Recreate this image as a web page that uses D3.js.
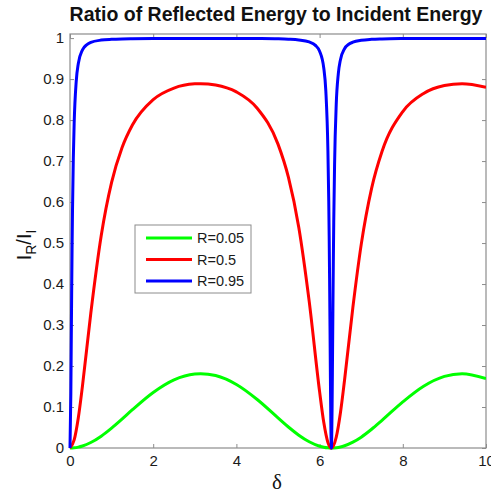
<!DOCTYPE html>
<html>
<head>
<meta charset="utf-8">
<script src="https://cdn.jsdelivr.net/npm/d3@7"></script>
<style>
  html, body { margin: 0; padding: 0; background: #fff; }
  svg { display: block; }
  text { font-family: "Liberation Sans", Arial, Helvetica, sans-serif; }
</style>
</head>
<body>
<svg id="chart" width="491" height="495"></svg>
<script>
// Phase difference samples (radians) and reflected fraction for each mirror reflectance.
// The high-finesse curve uses a denser grid around the sharp dips at 0 and 2π.
const deltaSmooth = [0, 0.1, 0.2, 0.3, 0.5, 0.75, 1.0, 1.25, 1.5, 2.0, 2.5, 3.0, 3.1416, 3.5, 4.0, 4.5, 5.0, 5.25, 5.5, 5.75, 6.0, 6.1, 6.2, 6.2832, 6.4, 6.5, 6.6, 6.8, 7.0, 7.25, 7.5, 8.0, 8.5, 9.0, 9.4248, 10];
const ratioR005 = [0, 0.00055, 0.0022, 0.0049, 0.0134, 0.0289, 0.0485, 0.0705, 0.0934, 0.1356, 0.1664, 0.1807, 0.1814, 0.1767, 0.1549, 0.1183, 0.0735, 0.0512, 0.0313, 0.0152, 0.0044, 0.0019, 0.0004, 0, 0.0008, 0.0026, 0.0055, 0.0143, 0.0265, 0.0457, 0.0675, 0.1126, 0.1508, 0.1748, 0.1814, 0.1693];
const ratioR05 = [0, 0.0196, 0.0739, 0.1516, 0.3287, 0.5177, 0.6478, 0.7325, 0.7880, 0.8500, 0.8781, 0.8884, 0.8889, 0.8857, 0.8687, 0.8289, 0.7413, 0.6606, 0.5382, 0.3576, 0.1374, 0.0627, 0.0136, 0, 0.0266, 0.0856, 0.1660, 0.3431, 0.4961, 0.6334, 0.7232, 0.8209, 0.8650, 0.8843, 0.8889, 0.8803];

const deltaSharp = [0, 0.02, 0.03, 0.04, 0.05, 0.06, 0.08, 0.1, 0.15, 0.2, 0.3, 0.4, 0.5, 0.75, 1.0, 1.25, 1.5, 2.0, 2.5, 3.0, 3.1416, 3.5, 4.0, 4.5, 5.0, 5.25, 5.5, 5.75, 5.9, 6.0, 6.1, 6.15, 6.2, 6.22, 6.23, 6.24, 6.25, 6.26, 6.27, 6.2832, 6.29, 6.30, 6.31, 6.32, 6.33, 6.34, 6.36, 6.4, 6.45, 6.5, 6.6, 6.7, 6.8, 7.0, 7.25, 7.5, 8.0, 8.5, 9.0, 9.4248, 10];
const ratioR095 = [0, 0.1319, 0.2549, 0.3781, 0.4872, 0.5777, 0.7086, 0.7915, 0.8951, 0.9381, 0.9714, 0.9836, 0.9894, 0.9951, 0.9971, 0.9981, 0.9986, 0.9991, 0.9993, 0.9993, 0.9993, 0.9993, 0.9992, 0.9989, 0.9982, 0.9973, 0.9955, 0.9906, 0.9822, 0.9680, 0.9271, 0.8707, 0.7244, 0.6027, 0.5180, 0.4147, 0.2950, 0.1696, 0.0620, 0, 0.0173, 0.0970, 0.2146, 0.3399, 0.4544, 0.5509, 0.6916, 0.8383, 0.9134, 0.9468, 0.9742, 0.9849, 0.9900, 0.9947, 0.9970, 0.9980, 0.9989, 0.9992, 0.9993, 0.9993, 0.9993];

const seriesNames = ["R=0.05", "R=0.5", "R=0.95"];
const seriesColors = ["#00ff00", "#ff0000", "#0000ff"];
const xTicks = [0, 2, 4, 6, 8, 10];
const yTicks = [0, 0.1, 0.2, 0.3, 0.4, 0.5, 0.6, 0.7, 0.8, 0.9, 1];

const series = [
  { name: seriesNames[0], color: seriesColors[0], x: deltaSmooth, y: ratioR005 },
  { name: seriesNames[1], color: seriesColors[1], x: deltaSmooth, y: ratioR05 },
  { name: seriesNames[2], color: seriesColors[2], x: deltaSharp, y: ratioR095 }
];

const svg = d3.select("#chart");
const plot = { left: 70, right: 486, top: 34, bottom: 448 };

const x = d3.scaleLinear().domain([0, 10]).range([plot.left, plot.right]);
const y = d3.scaleLinear().domain([0, 1.01]).range([plot.bottom, plot.top]);

const axisGrey = "#8c8c8c";
const tickLen = 4;

// Axes with inward ticks on all four sides (box style)
function styleAxis(g) {
  g.select(".domain").remove();
  g.selectAll(".tick line").attr("stroke", axisGrey).attr("stroke-width", 1);
  g.selectAll(".tick text").attr("fill", "#1a1a1a").style("font-size", "15px");
}

svg.append("g")
  .attr("transform", `translate(0,${plot.bottom})`)
  .call(d3.axisBottom(x).tickValues(xTicks).tickFormat(d3.format("d")).tickSizeInner(-tickLen).tickSizeOuter(0).tickPadding(7))
  .call(styleAxis);

svg.append("g")
  .attr("transform", `translate(0,${plot.top})`)
  .call(d3.axisTop(x).tickValues(xTicks).tickFormat("").tickSizeInner(-tickLen).tickSizeOuter(0))
  .call(styleAxis);

svg.append("g")
  .attr("transform", `translate(${plot.left},0)`)
  .call(d3.axisLeft(y).tickValues(yTicks).tickFormat(d => d === 0 || d === 1 ? d3.format("d")(d) : d3.format(".1f")(d)).tickSizeInner(-tickLen).tickSizeOuter(0).tickPadding(6))
  .call(styleAxis);

svg.append("g")
  .attr("transform", `translate(${plot.right},0)`)
  .call(d3.axisRight(y).tickValues(yTicks).tickFormat("").tickSizeInner(-tickLen).tickSizeOuter(0))
  .call(styleAxis);

// Frame around the plotting area
svg.append("rect")
  .attr("x", plot.left).attr("y", plot.top)
  .attr("width", plot.right - plot.left).attr("height", plot.bottom - plot.top)
  .attr("fill", "none").attr("stroke", axisGrey).attr("stroke-width", 1.2);

// Curves
svg.append("clipPath").attr("id", "plot-clip").append("rect")
  .attr("x", plot.left - 2).attr("y", plot.top)
  .attr("width", plot.right - plot.left + 2).attr("height", plot.bottom - plot.top + 2);

const line = d3.line()
  .x(d => x(d[0]))
  .y(d => y(d[1]))
  .curve(d3.curveMonotoneX);

svg.append("g").attr("clip-path", "url(#plot-clip)")
  .selectAll("path")
  .data(series)
  .join("path")
  .attr("d", s => line(s.x.map((v, i) => [v, s.y[i]])))
  .attr("fill", "none")
  .attr("stroke", s => s.color)
  .attr("stroke-width", 3)
  .attr("stroke-linejoin", "round");

// Title
svg.append("text")
  .attr("x", 276).attr("y", 21)
  .attr("text-anchor", "middle")
  .style("font-size", "19.5px").style("font-weight", "bold")
  .attr("fill", "#111")
  .text("Ratio of Reflected Energy to Incident Energy");

// Axis labels
svg.append("text")
  .attr("x", 277).attr("y", 489)
  .attr("text-anchor", "middle")
  .style("font-family", "'Liberation Serif', 'Times New Roman', serif")
  .style("font-size", "21px")
  .attr("fill", "#111")
  .text("δ");

const yLab = svg.append("text")
  .attr("transform", "translate(31,245) rotate(-90)")
  .attr("text-anchor", "middle")
  .style("font-size", "20px")
  .attr("fill", "#111");
yLab.append("tspan").text("I");
yLab.append("tspan").attr("dy", 5).style("font-size", "14px").text("R");
yLab.append("tspan").attr("dy", -5).text("/I");
yLab.append("tspan").attr("dy", 5).style("font-size", "14px").text("I");

// Legend
const legend = svg.append("g").attr("transform", "translate(135,225)");
legend.append("rect")
  .attr("width", 116).attr("height", 68)
  .attr("fill", "#fff").attr("stroke", axisGrey).attr("stroke-width", 1);

const rows = legend.selectAll("g.row")
  .data(series)
  .join("g")
  .attr("class", "row")
  .attr("transform", (d, i) => `translate(0,${13 + i * 21.5})`);

rows.append("line")
  .attr("x1", 11).attr("x2", 57)
  .attr("stroke", d => d.color).attr("stroke-width", 3);

rows.append("text")
  .attr("x", 62).attr("dy", "0.36em")
  .style("font-size", "14.5px")
  .attr("fill", "#1a1a1a")
  .text(d => d.name);
</script>
</body>
</html>
